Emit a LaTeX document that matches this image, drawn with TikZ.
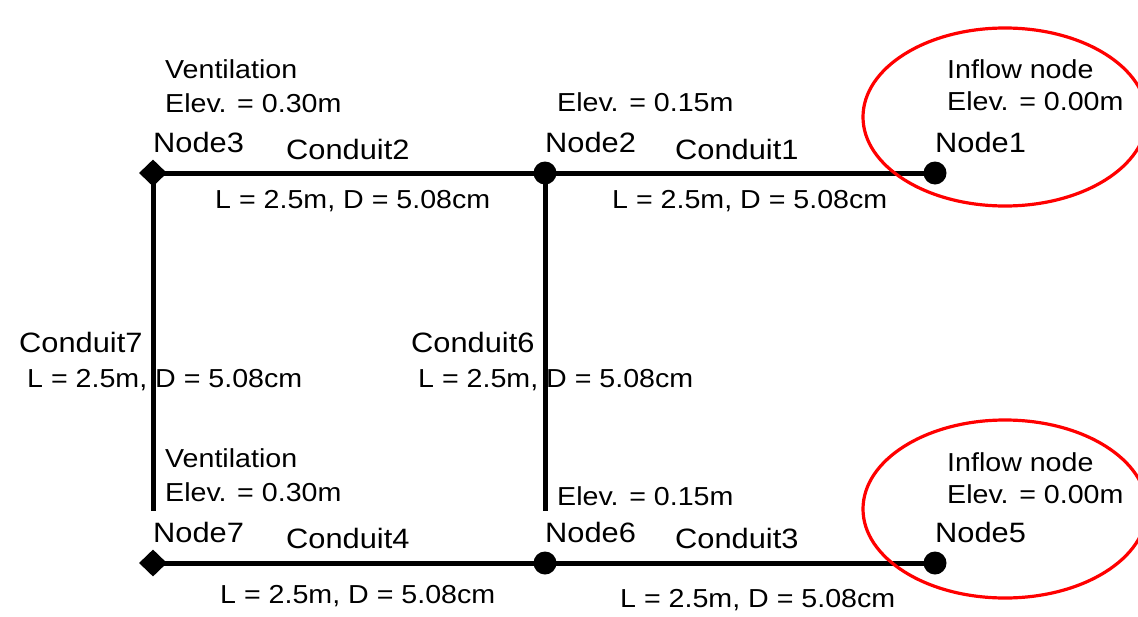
\documentclass[tikz,border=0pt]{standalone}
\usepackage{fontspec}
\setmainfont{Liberation Sans}[FakeStretch=1.1]
\usetikzlibrary{shapes.geometric}
\pgfdeclarelayer{bg}
\pgfsetlayers{bg,main}
\tikzset{
  txt/.style={anchor=west, inner sep=0pt, text=black, font=\fontsize{26}{30}\selectfont},
  bigtxt/.style={txt, font=\fontsize{28}{32}\selectfont},
  namebox/.style={bigtxt, fill=white, inner xsep=3pt, inner ysep=0pt, minimum height=42pt},
  pipe/.style={line width=5pt},
  dotnode/.style={circle, fill=black, minimum size=23pt, inner sep=0pt},
  dianode/.style={diamond, fill=black, minimum width=28pt, minimum height=27pt, inner sep=0pt},
  ring/.style={draw=red, line width=3.2pt}
}
\begin{document}
\begin{tikzpicture}[x=1pt,y=-1pt]
\useasboundingbox (0,0) rectangle (1138,616);
% labels
\node[txt] (v3) at (165,69) {Ventilation};
\node[txt] (e3) at (165,103) {Elev. = 0.30m};
\node[namebox] (l3) at (150,142) {Node3};
\node[bigtxt] (c2) at (286,149) {Conduit2};
\node[txt] (d2) at (215,201) {L = 2.5m, D = 5.08cm};
\node[txt] (e2) at (557,102) {Elev. = 0.15m};
\node[namebox] (l2) at (542,142) {Node2};
\node[bigtxt] (c1) at (675,149) {Conduit1};
\node[txt] (d1) at (612,201) {L = 2.5m, D = 5.08cm};
\node[txt] (i1) at (947,69) {Inflow node};
\node[txt] (e1) at (947,101) {Elev. = 0.00m};
\node[namebox] (l1) at (932,142) {Node1};
\node[bigtxt] (c7) at (19,342) {Conduit7};
\node[txt] (d7) at (27,380) {L = 2.5m, D = 5.08cm};
\node[bigtxt] (c6) at (411,342) {Conduit6};
\node[txt] (d6) at (418,380) {L = 2.5m, D = 5.08cm};
\node[txt] (v7) at (165,458) {Ventilation};
\node[txt] (e7) at (165,492) {Elev. = 0.30m};
\node[namebox] (l7) at (150,532) {Node7};
\node[bigtxt] (c4) at (286,538) {Conduit4};
\node[txt] (d4) at (220,596) {L = 2.5m, D = 5.08cm};
\node[txt] (e6) at (557,496) {Elev. = 0.15m};
\node[namebox] (l6) at (542,532) {Node6};
\node[bigtxt] (c3) at (675,538) {Conduit3};
\node[txt] (d3) at (620,600) {L = 2.5m, D = 5.08cm};
\node[txt] (i5) at (947,462) {Inflow node};
\node[txt] (e5) at (947,494) {Elev. = 0.00m};
\node[namebox] (l5) at (932,532) {Node5};
% junctions
\node[dianode] (N3) at (153,173) {};
\node[dotnode] (N2) at (545,173) {};
\node[dotnode] (N1) at (935,173) {};
\node[dianode] (N7) at (153,563) {};
\node[dotnode] (N6) at (545,563) {};
\node[dotnode] (N5) at (935,563) {};
% conduits
\begin{pgfonlayer}{bg}
\draw[pipe] (N2.center) -- (N1.center);
\draw[pipe] (N3.center) -- (N2.center);
\draw[pipe] (N6.center) -- (N5.center);
\draw[pipe] (N7.center) -- (N6.center);
\draw[pipe] (N3.center) -- (N7.center);
\draw[pipe] (N2.center) -- (N6.center);
\end{pgfonlayer}
% highlight rings
\draw[ring] (1005,117) ellipse [x radius=142, y radius=89];
\draw[ring] (1005,509) ellipse [x radius=142, y radius=89];
\end{tikzpicture}
\end{document}
